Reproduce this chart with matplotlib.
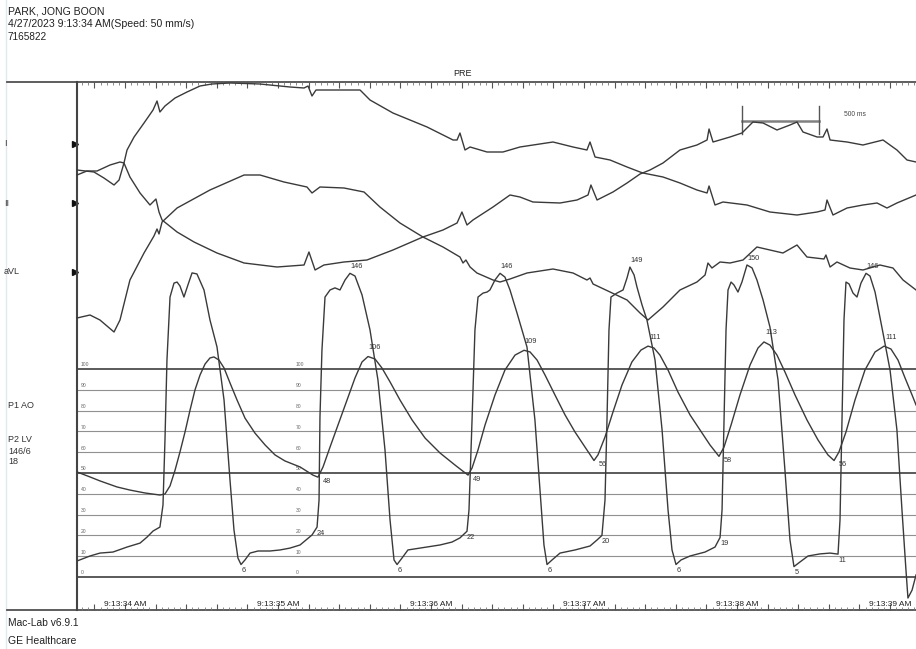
import matplotlib
matplotlib.use("Agg")
import matplotlib.pyplot as plt
import numpy as np

plt.rcParams['font.family'] = ['Liberation Sans', 'DejaVu Sans']

# ---------------- text content ----------------
patient_name = "PARK, JONG BOON"
study_stamp = "4/27/2023 9:13:34 AM(Speed: 50 mm/s)"
patient_id = "7165822"
phase_title = "PRE"
footer_lines = ["Mac-Lab v6.9.1", "GE Healthcare"]
lead_names = ["I", "II", "aVL"]
pressure_names = ["P1 AO", "P2 LV", "146/6", "18"]
time_labels = ["9:13:34 AM", "9:13:35 AM", "9:13:36 AM",
               "9:13:37 AM", "9:13:38 AM", "9:13:39 AM"]
grid_mmHg = [0, 10, 20, 30, 40, 50, 60, 70, 80, 90, 100]
scale_bar_ms = 500

# ---------------- ECG leads (time s, mV) ----------------
lead_I_t = [0, 0.065, 0.131, 0.216, 0.281, 0.307, 0.327, 0.373, 0.438, 0.497,
            0.523, 0.542, 0.575, 0.641, 0.719, 0.804, 0.882, 1.000, 1.196, 1.392,
            1.484, 1.510, 1.536, 1.562, 1.745, 1.850, 1.915, 2.065, 2.288, 2.458,
            2.484, 2.503, 2.536, 2.569, 2.680, 2.784, 2.895, 3.111, 3.242, 3.333,
            3.353, 3.386, 3.484, 3.595, 3.680, 3.699, 3.830, 3.941, 4.052, 4.118,
            4.131, 4.170, 4.222, 4.379, 4.529, 4.706, 4.837, 4.889, 4.902, 4.941,
            5.033, 5.137, 5.229, 5.294, 5.359, 5.484]
lead_I_mv = [-0.31, -0.27, -0.27, -0.21, -0.18, -0.19, -0.06, 0.07, 0.21, 0.34,
             0.43, 0.32, 0.38, 0.46, 0.52, 0.58, 0.60, 0.61, 0.60, 0.57,
             0.56, 0.58, 0.48, 0.54, 0.54, 0.54, 0.44, 0.31, 0.17, 0.04,
             0.04, 0.11, -0.06, -0.03, -0.08, -0.08, -0.03, 0.02, -0.03, -0.06,
             0.02, -0.13, -0.16, -0.23, -0.28, -0.29, -0.33, -0.39, -0.46, -0.49,
             -0.42, -0.61, -0.58, -0.61, -0.68, -0.71, -0.68, -0.66, -0.56, -0.71,
             -0.64, -0.61, -0.59, -0.64, -0.59, -0.51]

lead_II_t = [0, 0.111, 0.176, 0.242, 0.275, 0.307, 0.346, 0.412, 0.477, 0.516,
             0.536, 0.556, 0.654, 0.765, 0.915, 1.092, 1.307, 1.484, 1.516, 1.556,
             1.614, 1.745, 1.895, 2.065, 2.261, 2.392, 2.484, 2.516, 2.549, 2.588,
             2.719, 2.830, 2.895, 2.980, 3.157, 3.268, 3.340, 3.359, 3.399, 3.503,
             3.595, 3.680, 3.745, 3.830, 3.941, 4.052, 4.118, 4.131, 4.157, 4.268,
             4.346, 4.418, 4.484, 4.575, 4.660, 4.706, 4.745, 4.837, 4.876, 4.902,
             4.922, 5.033, 5.137, 5.268, 5.359, 5.425, 5.484]
lead_II_mv = [0.33, 0.31, 0.25, 0.18, 0.23, 0.40, 0.26, 0.10, -0.02, 0.04,
              -0.09, -0.17, -0.29, -0.39, -0.50, -0.60, -0.64, -0.62, -0.49, -0.67,
              -0.62, -0.59, -0.57, -0.47, -0.34, -0.27, -0.20, -0.09, -0.22, -0.17,
              -0.04, 0.08, 0.06, 0.01, 0.00, 0.03, 0.08, 0.18, 0.03, 0.11,
              0.20, 0.29, 0.33, 0.40, 0.53, 0.58, 0.63, 0.74, 0.61, 0.66,
              0.70, 0.81, 0.80, 0.73, 0.78, 0.81, 0.71, 0.66, 0.66, 0.74,
              0.63, 0.61, 0.58, 0.63, 0.53, 0.43, 0.41]

lead_aVL_t = [0, 0.085, 0.150, 0.242, 0.281, 0.346, 0.438, 0.503, 0.523, 0.536,
              0.556, 0.654, 0.869, 1.092, 1.196, 1.353, 1.503, 1.536, 1.588, 1.745,
              1.876, 1.980, 2.111, 2.261, 2.392, 2.503, 2.523, 2.542, 2.569, 2.614,
              2.719, 2.765, 2.830, 2.941, 3.111, 3.242, 3.333, 3.353, 3.373, 3.484,
              3.595, 3.680, 3.732, 3.830, 3.941, 4.052, 4.105, 4.124, 4.150, 4.203,
              4.268, 4.353, 4.444, 4.529, 4.614, 4.706, 4.771, 4.882, 4.895, 4.922,
              4.967, 5.052, 5.137, 5.248, 5.333, 5.399, 5.484]
lead_aVL_mv = [-0.46, -0.43, -0.48, -0.60, -0.48, -0.08, 0.19, 0.36, 0.43, 0.38,
               0.50, 0.64, 0.82, 0.97, 0.97, 0.90, 0.85, 0.79, 0.85, 0.84,
               0.80, 0.65, 0.49, 0.35, 0.25, 0.15, 0.09, 0.12, 0.05, -0.01,
               -0.08, -0.10, -0.07, -0.01, 0.03, -0.01, -0.08, -0.06, -0.12, -0.20,
               -0.28, -0.41, -0.48, -0.35, -0.18, -0.10, -0.03, 0.09, 0.04, 0.10,
               0.09, 0.12, 0.25, 0.22, 0.19, 0.27, 0.15, 0.13, 0.17, 0.05,
               0.10, 0.04, 0.02, 0.07, 0.04, -0.08, -0.18]

# ---------------- LV pressure (time s, mmHg) ----------------
lv_t = [0.000, 0.085, 0.150, 0.235, 0.327, 0.412, 0.458, 0.497, 0.542, 0.562,
        0.575, 0.588, 0.608, 0.634, 0.654, 0.673, 0.699, 0.725, 0.752, 0.784,
        0.830, 0.869, 0.915, 0.961, 1.000, 1.026, 1.052, 1.072, 1.098, 1.131,
        1.183, 1.261, 1.327, 1.392, 1.458, 1.497, 1.536, 1.569,
        1.582, 1.588, 1.601, 1.621, 1.654, 1.686, 1.719, 1.752, 1.784, 1.817,
        1.863, 1.915, 1.967, 2.013, 2.046, 2.072, 2.092, 2.124, 2.163, 2.242,
        2.373, 2.451, 2.503, 2.549,
        2.562, 2.582, 2.601, 2.621, 2.654, 2.680, 2.699, 2.732, 2.765, 2.797,
        2.830, 2.876, 2.941, 2.993, 3.026, 3.052, 3.072, 3.105, 3.157, 3.255,
        3.353, 3.399, 3.431,
        3.451, 3.464, 3.477, 3.490, 3.529, 3.569, 3.595, 3.614, 3.641, 3.660,
        3.693, 3.725, 3.778, 3.824, 3.863, 3.889, 3.915, 3.948, 4.007, 4.105,
        4.170, 4.203,
        4.216, 4.229, 4.242, 4.255, 4.275, 4.294, 4.320, 4.346, 4.379, 4.412,
        4.444, 4.484, 4.529, 4.582, 4.627, 4.660, 4.686, 4.725, 4.778, 4.856,
        4.922, 4.974,
        4.987, 5.000, 5.013, 5.026, 5.046, 5.072, 5.098, 5.124, 5.157, 5.183,
        5.216, 5.268, 5.314, 5.359, 5.392, 5.418, 5.431, 5.458, 5.484]
lv_mmHg = [7.7, 10.1, 11.5, 12.0, 14.4, 16.3, 19.2, 22.1, 24.0, 34.6,
           65.9, 104.3, 134.6, 141.3, 141.8, 139.9, 134.6, 140.4, 146.2, 145.7,
           138.0, 123.6, 110.6, 85.1, 46.6, 22.6, 9.1, 6, 8.2, 11.5,
           12.5, 12.5, 13.0, 13.9, 15.4, 17.8, 20.2, 24,
           37.0, 76.9, 109.1, 134.6, 138.0, 139.0, 138.0, 142.8, 146, 144.7,
           135.6, 118.8, 94.7, 61.1, 27.4, 8.2, 6, 9.1, 13.0, 13.9,
           15.4, 16.8, 18.8, 22,
           32.2, 75.5, 118.8, 134.6, 136.5, 137.0, 138.0, 142.8, 146, 144.2,
           138.0, 126.9, 110.6, 75.5, 41.8, 15.4, 6, 8.2, 11.5, 13.0,
           14.9, 17.8, 20,
           37.0, 75.5, 118.8, 134.6, 136.5, 138.0, 143.8, 149, 145.2, 139.4,
           130.8, 123.6, 104.3, 70.7, 32.2, 13.0, 6, 8.2, 10.1, 12.0,
           14.4, 19,
           32.2, 75.5, 118.8, 138.0, 141.8, 140.4, 137.0, 141.8, 150, 148.6,
           142.8, 133.2, 120.2, 94.7, 51.4, 17.8, 5, 7.2, 10.1, 11.1,
           11.5, 11,
           27.4, 75.5, 123.6, 141.8, 140.9, 136.5, 134.6, 141.3, 146, 144.7,
           137.0, 117.3, 99.5, 70.7, 32.2, 3.4, -10.1, -6.3, 1.0]
lv_peak_t = [1.784, 2.765, 3.614, 4.379, 5.157]
lv_min_t = [1.072, 2.092, 3.072, 3.915, 4.686]
lv_ed_t = [1.569, 2.549, 3.431, 4.203, 4.974]

# ---------------- aortic pressure (time s, mmHg) ----------------
ao_t = [0.000, 0.085, 0.150, 0.261, 0.346, 0.444, 0.542, 0.575, 0.608, 0.641,
        0.673, 0.706, 0.739, 0.771, 0.804, 0.837, 0.869, 0.895, 0.928, 0.961,
        1.000, 1.046, 1.098, 1.163, 1.229, 1.294, 1.359, 1.458, 1.542, 1.575,
        1.608, 1.654, 1.706, 1.765, 1.817, 1.863, 1.902, 1.948, 1.993, 2.046,
        2.111, 2.190, 2.275, 2.373, 2.471, 2.529, 2.556,
        2.582, 2.621, 2.667, 2.732, 2.797, 2.863, 2.922, 2.961, 3.007, 3.059,
        3.124, 3.190, 3.255, 3.320, 3.379,
        3.405, 3.451, 3.503, 3.562, 3.627, 3.686, 3.732, 3.771, 3.810, 3.863,
        3.928, 4.007, 4.072, 4.137, 4.196,
        4.229, 4.275, 4.333, 4.399, 4.451, 4.490, 4.529, 4.575, 4.627, 4.693,
        4.771, 4.843, 4.908, 4.948,
        4.980, 5.026, 5.085, 5.150, 5.216, 5.275, 5.320, 5.366, 5.412, 5.458,
        5.484]
ao_mmHg = [50.5, 48.1, 46.2, 43.3, 41.8, 40.4, 39.4, 39.9, 43.8, 51.4,
           60.1, 69.7, 80.3, 89.9, 97.1, 102.4, 105.3, 105.8, 104.3, 100.5,
           93.3, 85.1, 76.4, 69.2, 63.5, 58.7, 55.8, 52.9, 49.0, 48,
           52.9, 62.5, 73.1, 85.1, 95.7, 103.4, 106, 104.8, 100.5, 93.8,
           85.1, 75.5, 66.8, 59.6, 53.8, 50.5, 49,
           52.4, 61.1, 73.1, 87.5, 99.5, 106.7, 109, 108.2, 104.3, 97.1,
           87.5, 77.9, 69.7, 62.5, 56,
           58.7, 67.3, 79.3, 92.3, 103.4, 109.1, 111, 110.1, 106.7, 99.5,
           88.9, 77.9, 70.7, 63.5, 58,
           62.5, 73.1, 87.5, 101.9, 110.1, 113, 111.5, 106.7, 98.6, 87.5,
           75.5, 65.9, 58.7, 56,
           60.1, 69.7, 85.1, 99.5, 108.2, 111, 109.6, 104.3, 95.7, 87.5,
           82.7]
ao_peak_t = [1.902, 2.922, 3.732, 4.490, 5.275]
ao_trough_t = [1.575, 2.556, 3.379, 4.196, 4.948]

# ---------------- page layout (pixels) ----------------
W, H = 916, 649
L, R, T, B = 77, 916, 82, 610          # recording area
SPEED = 153.0                          # px per second (50 mm/s sweep)
MV_PX = 100.0                          # px per mV for the ECG strips
LEAD_BASE = [144, 203, 272]            # baseline marker rows
MMHG_PX = 2.08                         # px per mmHg
ZERO_ROW = 577                         # 0 mmHg row
FIRST_SEC = (125 - L) / SPEED          # position of first time label
INK = '#3a3a3a'

fig = plt.figure(figsize=(W / 100, H / 100), dpi=100)
fig.patch.set_facecolor('white')

frame = fig.add_axes([0, 0, 1, 1], label='frame')
frame.set_xlim(0, W)
frame.set_ylim(H, 0)
frame.axis('off')

rect = [L / W, 1 - B / H, (R - L) / W, (B - T) / H]
t_span = (R - L) / SPEED


def strip(name, ylim, z):
    ax = fig.add_axes(rect, label=name, zorder=z)
    ax.set_xlim(0, t_span)
    ax.set_ylim(*ylim)
    ax.patch.set_visible(False)
    return ax


# pressure strip carries grid, time ticks and the left border
ax_p = strip('pressure', ((ZERO_ROW - B) / MMHG_PX, (ZERO_ROW - T) / MMHG_PX), 2)
for s in ('top', 'bottom', 'right'):
    ax_p.spines[s].set_visible(False)
ax_p.spines['left'].set_color('#444444')
ax_p.spines['left'].set_linewidth(1.5)
ax_p.set_yticks([])
major = np.arange(FIRST_SEC - 0.2, t_span, 0.2)
minor = np.arange(FIRST_SEC - 0.28, t_span, 0.04)
ax_p.set_xticks(major[major >= 0])
ax_p.set_xticks(minor[minor >= 0], minor=True)
ax_p.tick_params(axis='x', which='major', direction='in', length=4, width=0.8,
                 color='#555555', top=True, bottom=True, labelbottom=False)
ax_p.tick_params(axis='x', which='minor', direction='in', length=2, width=0.6,
                 color='#777777', top=True, bottom=True)

for v in grid_mmHg:
    heavy = v % 50 == 0
    ax_p.axhline(v, color='#4d4d4d' if heavy else '#909090',
                 lw=1.3 if heavy else 0.8, zorder=1)
    for col in (81, 296):
        ax_p.text((col - L) / SPEED, v + 0.8, str(v), fontsize=3.6,
                  color='#666666', ha='left', va='bottom')

xt = ax_p.get_xaxis_transform()
for k, lab in enumerate(time_labels):
    ax_p.text(FIRST_SEC + k, 0.004, lab, transform=xt, fontsize=6.0,
              color='#222222', ha='center', va='bottom')

# 500 ms calibration bar
bar0 = (742 - L) / SPEED
bar1 = bar0 + scale_bar_ms / 1000.0
bar_y = (B - 121) / (B - T)
ax_p.plot([bar0, bar1], [bar_y, bar_y], transform=xt, color='#808080', lw=1.8)
for bx in (bar0, bar1):
    ax_p.plot([bx, bx], [(B - 134) / (B - T), (B - 106) / (B - T)],
              transform=xt, color='#555555', lw=1.0)
ax_p.text(bar1 + (843 - 818) / SPEED, (B - 114) / (B - T), f"{scale_bar_ms} ms",
          transform=xt, fontsize=4.8, color='#444444', ha='left', va='center')

# pressure waveforms
ax_p.plot(ao_t, ao_mmHg, color=INK, lw=1.0, zorder=3, solid_joinstyle='round')
ax_p.plot(lv_t, lv_mmHg, color=INK, lw=1.0, zorder=3, solid_joinstyle='round')


def mark(ts, vs, when, dx, dy):
    i = int(np.argmin(np.abs(np.asarray(ts) - when)))
    ax_p.annotate(f"{vs[i]:g}", (ts[i], vs[i]), xytext=(dx, dy),
                  textcoords='offset pixels', fontsize=5.3, color='#333333',
                  ha='center', va='center', zorder=4)


for w in lv_peak_t:
    mark(lv_t, lv_mmHg, w, 7, 7)
for w in lv_min_t:
    mark(lv_t, lv_mmHg, w, 3, -6)
for w in lv_ed_t:
    mark(lv_t, lv_mmHg, w, 4, -6)
for w in ao_peak_t:
    mark(ao_t, ao_mmHg, w, 7, 9)
for w in ao_trough_t:
    mark(ao_t, ao_mmHg, w, 9, -4)

# ECG strips, one axis per lead sharing the time base
leads = [(lead_I_t, lead_I_mv), (lead_II_t, lead_II_mv), (lead_aVL_t, lead_aVL_mv)]
for n, ((tt, mv), base) in enumerate(zip(leads, LEAD_BASE)):
    ax = strip(f'lead{n}', ((base - B) / MV_PX, (base - T) / MV_PX), 3 + n)
    ax.axis('off')
    ax.plot(tt, mv, color=INK, lw=1.0, clip_on=False, solid_joinstyle='round')

# ---------------- page furniture ----------------
frame.plot([5.5, 5.5], [0, H], color='#e3e8ee', lw=1.0)
frame.plot([7, W], [T, T], color='#505050', lw=1.3)
frame.plot([7, W], [B, B], color='#505050', lw=1.3)
for base, name in zip(LEAD_BASE, lead_names):
    frame.plot([74.5], [base], marker='>', ms=5, color='#111111', lw=0)
    frame.text(4, base, name, fontsize=6.5, color='#333333', ha='left', va='center')

frame.text(8, 12, patient_name, fontsize=7.6, color='#222222', va='center')
frame.text(8, 24, study_stamp, fontsize=7.6, color='#222222', va='center')
frame.text(8, 37, patient_id, fontsize=7.2, color='#222222', va='center')
frame.text(462, 74, phase_title, fontsize=6.5, color='#222222', ha='center', va='center')

for y, txt in zip((405, 440, 451, 462), pressure_names):
    frame.text(8, y, txt, fontsize=6.5, color='#333333', va='center')

frame.text(8, 623, footer_lines[0], fontsize=7.4, color='#222222', va='center')
frame.text(8, 641, footer_lines[1], fontsize=7.5, color='#222222', va='center')

fig.savefig('out.png', dpi=100, facecolor='white')
